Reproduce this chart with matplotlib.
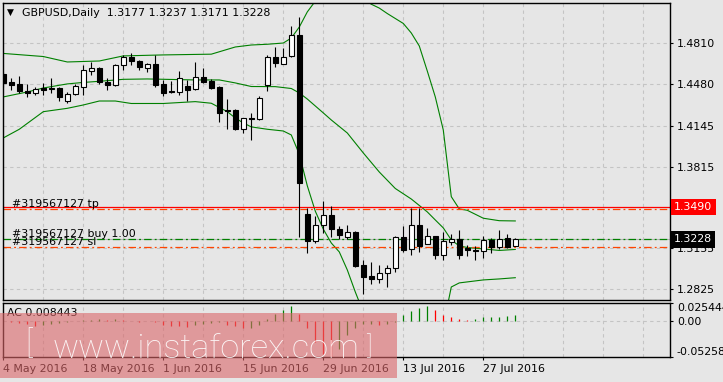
import matplotlib
matplotlib.use('Agg')
import matplotlib.pyplot as plt
from matplotlib.patches import Rectangle
import numpy as np

plt.rcParams['font.family'] = ['DejaVu Sans']

# chart data (daily bars, 4 May 2016 .. 2 Aug 2016)
symbol = 'GBPUSD,Daily'
date_labels = ['4 May 2016', '18 May 2016', '1 Jun 2016', '15 Jun 2016',
               '29 Jun 2016', '13 Jul 2016', '27 Jul 2016']
date_pos = [0, 10, 20, 30, 40, 50, 60]

opens = [1.4558, 1.4498, 1.4482, 1.4423, 1.4407, 1.4447, 1.4443, 1.4449, 1.4347, 1.4398,
         1.4460, 1.4589, 1.4611, 1.4500, 1.4476, 1.4633, 1.4697, 1.4667, 1.4608, 1.4643,
         1.4482, 1.4428, 1.4419, 1.4465, 1.4439, 1.4541, 1.4506, 1.4460, 1.4268, 1.4272,
         1.4116, 1.4205, 1.4202, 1.4471, 1.4697, 1.4645, 1.4708, 1.4877, 1.3430, 1.3217,
         1.3341, 1.3422, 1.3311, 1.3244, 1.3285, 1.3021, 1.2932, 1.2906, 1.2954, 1.2994,
         1.3244, 1.3148, 1.3341, 1.3193, 1.3253, 1.3104, 1.3204, 1.3231, 1.3156, 1.3142,
         1.3131, 1.3223, 1.3164, 1.3236, 1.3177]
highs = [1.4578, 1.4532, 1.4546, 1.4479, 1.4460, 1.4492, 1.4530, 1.4460, 1.4419, 1.4482,
         1.4635, 1.4662, 1.4615, 1.4528, 1.4643, 1.4716, 1.4734, 1.4675, 1.4649, 1.4716,
         1.4511, 1.4508, 1.4587, 1.4514, 1.4657, 1.4608, 1.4522, 1.4462, 1.4358, 1.4277,
         1.4210, 1.4250, 1.4385, 1.4716, 1.4778, 1.4774, 1.4950, 1.5022, 1.3478, 1.3416,
         1.3537, 1.3497, 1.3336, 1.3341, 1.3295, 1.3061, 1.3043, 1.3019, 1.3019, 1.3255,
         1.3336, 1.3478, 1.3478, 1.3317, 1.3258, 1.3290, 1.3269, 1.3303, 1.3182, 1.3174,
         1.3257, 1.3241, 1.3306, 1.3271, 1.3237]
lows = [1.4457, 1.4433, 1.4407, 1.4374, 1.4390, 1.4390, 1.4407, 1.4342, 1.4331, 1.4390,
        1.4393, 1.4554, 1.4482, 1.4433, 1.4465, 1.4595, 1.4635, 1.4595, 1.4576, 1.4455,
        1.4381, 1.4407, 1.4393, 1.4344, 1.4433, 1.4487, 1.4441, 1.4177, 1.4116, 1.4110,
        1.4089, 1.4030, 1.4191, 1.4428, 1.4621, 1.4641, 1.4702, 1.3244, 1.3120, 1.3201,
        1.3277, 1.3244, 1.3233, 1.3228, 1.3002, 1.2787, 1.2868, 1.2873, 1.2846, 1.2967,
        1.3126, 1.3102, 1.3128, 1.3188, 1.3069, 1.3061, 1.3182, 1.3069, 1.3094, 1.3061,
        1.3075, 1.3115, 1.3150, 1.3156, 1.3171]
closes = [1.4486, 1.4476, 1.4428, 1.4407, 1.4439, 1.4433, 1.4447, 1.4374, 1.4401, 1.4465,
          1.4595, 1.4611, 1.4500, 1.4476, 1.4635, 1.4697, 1.4670, 1.4621, 1.4641, 1.4476,
          1.4409, 1.4415, 1.4528, 1.4433, 1.4541, 1.4500, 1.4452, 1.4250, 1.4264, 1.4116,
          1.4205, 1.4197, 1.4366, 1.4697, 1.4649, 1.4702, 1.4877, 1.3680, 1.3217, 1.3341,
          1.3422, 1.3309, 1.3263, 1.3285, 1.3013, 1.2927, 1.2906, 1.2954, 1.2994, 1.3244,
          1.3144, 1.3341, 1.3177, 1.3253, 1.3104, 1.3212, 1.3231, 1.3104, 1.3140, 1.3131,
          1.3223, 1.3164, 1.3231, 1.3169, 1.3228]

# bollinger bands, read at some bars
bb_up_x = [0, 5, 8, 12, 15, 20, 26, 29, 31, 33, 35, 36, 37, 38, 39, 40, 41, 42, 43, 44,
           45, 46, 47, 48, 49, 50, 51, 52, 53, 54, 55, 56, 57, 58, 60, 62, 64]
bb_up = [1.4728, 1.4703, 1.4659, 1.4667, 1.4708, 1.4716, 1.4722, 1.4780, 1.4796, 1.4802,
         1.4812, 1.4852, 1.4941, 1.5063, 1.5150, 1.5200, 1.5195, 1.5170, 1.5195, 1.5205,
         1.5170, 1.5125, 1.5094, 1.5050, 1.5010, 1.4970, 1.4893, 1.4788, 1.4586, 1.4377,
         1.4110, 1.3572, 1.3473, 1.3462, 1.3398, 1.3378, 1.3376]
bb_mid_x = [0, 3, 5, 8, 10, 12, 15, 18, 21, 24, 27, 29, 31, 34, 36, 37, 38, 39, 40, 41,
            43, 45, 47, 49, 51, 52, 53, 54, 55, 56, 57, 58, 60, 62, 64]
bb_mid = [1.4377, 1.4417, 1.4449, 1.4482, 1.4494, 1.4503, 1.4519, 1.4522, 1.4518, 1.4514,
          1.4514, 1.4490, 1.4461, 1.4460, 1.4445, 1.4409, 1.4360, 1.4304, 1.4248, 1.4191,
          1.4086, 1.3925, 1.3771, 1.3638, 1.3553, 1.3501, 1.3449, 1.3384, 1.3320, 1.3223,
          1.3174, 1.3162, 1.3150, 1.3138, 1.3146]
bb_low_x = [0, 2, 5, 8, 10, 12, 14, 16, 20, 24, 26, 28, 29, 30, 31, 33, 35, 36, 37, 38,
            39, 40, 41, 42, 43, 44, 45, 46, 48, 50, 52, 54, 55, 56, 57, 58, 60, 62, 64]
bb_low = [1.4046, 1.4116, 1.4258, 1.4285, 1.4312, 1.4344, 1.4344, 1.4324, 1.4324, 1.4339,
          1.4326, 1.4258, 1.4207, 1.4167, 1.4135, 1.4116, 1.4102, 1.4070, 1.3915, 1.3660,
          1.3455, 1.3310, 1.3198, 1.3126, 1.2981, 1.2803, 1.2640, 1.2561, 1.2359, 1.2238,
          1.2206, 1.2391, 1.2528, 1.2843, 1.2876, 1.2884, 1.2900, 1.2908, 1.2918]

# accelerator oscillator
ac = [-0.0009, -0.0019, -0.0033, -0.0047, -0.0082, -0.0057, -0.0047, -0.0033, -0.0019, -0.0007,
      0.0007, 0.0014, 0.0019, 0.0011, 0.0019, 0.0007, -0.0007, -0.0014, -0.0007, -0.0017,
      -0.0068, -0.0072, -0.0082, -0.0086, -0.0068, -0.0047, -0.0033, -0.0019, -0.0057, -0.0082,
      -0.0105, -0.0100, -0.0068, 0.0029, 0.0101, 0.0158, 0.0206, 0.0101, -0.0105, -0.0302,
      -0.0474, -0.0517, -0.0402, -0.0201, -0.0101, -0.0050, -0.0043, -0.0057, -0.0053, -0.0014,
      0.0086, 0.0144, 0.0182, 0.0206, 0.0148, 0.0086, 0.0048, 0.0029, 0.0014, 0.0029,
      0.0048, 0.0052, 0.0057, 0.0066, 0.008443]

order_id = '#319567127'
hline_level = 1.3490
tp_level = 1.3472
buy_level = 1.3232
sl_level = 1.3165

price_ticks = [1.4810, 1.4480, 1.4145, 1.3815, 1.3490, 1.3155, 1.2825]
ac_ticks = [0.025444, 0.0, -0.05258]
ac_tick_labels = ['0.025444', '0.00', '-0.05258']

W, H = 723, 382
bg = '#e6e6e6'
grid_col = '#c4c4c4'
fs = 7.9


def px_rect(l, t, r, b):
    return [l / W, 1 - b / H, (r - l) / W, (b - t) / H]


fig = plt.figure(figsize=(W / 100, H / 100), dpi=100, facecolor=bg)
ax = fig.add_axes(px_rect(2.5, 3, 670, 300))
ax2 = fig.add_axes(px_rect(2.5, 303, 670, 357.3))

x = np.arange(len(opens))
o = np.array(opens); c = np.array(closes)
xlim = (-0.1, 83.34)

for a in (ax, ax2):
    a.set_facecolor(bg)
    a.set_xlim(*xlim)
    for s in a.spines.values():
        s.set_color('black')
        s.set_linewidth(1.0)
    for g in range(0, 84, 5):
        a.axvline(g, color=grid_col, lw=0.8, dashes=(3, 3), zorder=0)

# main chart
ax.set_ylim(1.2738, 1.5135)
for p in price_ticks:
    ax.axhline(p, color=grid_col, lw=0.8, dashes=(3, 3), zorder=0)

ax.plot(bb_up_x, bb_up, color='#008000', lw=0.8, zorder=2)
ax.plot(bb_mid_x, bb_mid, color='#008000', lw=0.8, zorder=2)
ax.plot(bb_low_x, bb_low, color='#008000', lw=0.8, zorder=2)

up = c >= o
ax.vlines(x, lows, highs, color='black', lw=0.8, zorder=3)
ax.bar(x, np.abs(c - o), bottom=np.minimum(o, c), width=0.62,
       color=np.where(up, 'white', 'black'), edgecolor='black', linewidth=0.8, zorder=4)

dd = (6, 2.5, 1.5, 2.5)
ax.axhline(hline_level, color='#ff0000', lw=0.9, zorder=2)
ax.axhline(tp_level, color='#ff4500', lw=0.9, dashes=dd, zorder=2)
ax.axhline(closes[-1], color='#b4b4b4', lw=0.8, zorder=1)
ax.axhline(buy_level, color='#008000', lw=0.9, dashes=dd, zorder=2)
ax.axhline(sl_level, color='#ff4500', lw=0.9, dashes=dd, zorder=2)

ytr = ax.get_yaxis_transform()
ax.text(0.0138, tp_level, order_id + ' tp', transform=ytr, va='bottom', fontsize=fs)
ax.text(0.0138, closes[-1], order_id + ' buy 1.00', transform=ytr, va='bottom', fontsize=fs)
ax.text(0.0138, sl_level, order_id + ' sl', transform=ytr, va='bottom', fontsize=fs)

ax.yaxis.tick_right()
ax.set_yticks(price_ticks)
ax.set_yticklabels(['%.4f' % p for p in price_ticks])
ax.tick_params(axis='y', direction='out', length=2.5, width=0.8, pad=2.5, labelsize=fs)
ax.tick_params(axis='x', bottom=False, labelbottom=False)

ax.text(1.006, hline_level, '%.4f' % hline_level, transform=ytr, va='center', ha='left',
        fontsize=fs, color='white', clip_on=False, zorder=6,
        bbox=dict(boxstyle='square,pad=0.3', fc='#ff0000', ec='none'))
ax.text(1.006, closes[-1], '%.4f' % closes[-1], transform=ytr, va='center', ha='left',
        fontsize=fs, color='white', clip_on=False, zorder=6,
        bbox=dict(boxstyle='square,pad=0.3', fc='black', ec='none'))

# indicator panel
ax2.set_ylim(ac_ticks[-1], ac_ticks[0])
ax2.axhline(0, color=grid_col, lw=0.8, dashes=(3, 3), zorder=0)
acv = np.array(ac)
ac_col = np.where(np.diff(acv, prepend=acv[0] + 1) > 0, '#008000', '#ff0000')
ax2.vlines(x, 0, acv, colors=ac_col, lw=0.9, zorder=3)
ax2.text(0.0072, 0.816, 'AC %.6f' % ac[-1], transform=ax2.transAxes, va='center',
         fontsize=fs)

ax2.yaxis.tick_right()
ax2.set_yticks(ac_ticks)
ax2.set_yticklabels(ac_tick_labels)
ax2.tick_params(axis='y', direction='out', length=2.5, width=0.8, pad=2.5, labelsize=fs)
labs = ax2.get_yticklabels()
labs[0].set_va('top')
labs[-1].set_va('bottom')

ax2.set_xticks(date_pos)
ax2.set_xticklabels(date_labels, ha='left')
ax2.tick_params(axis='x', direction='out', length=2.5, width=0.8, pad=2.0, labelsize=fs)

# header
fig.text(7 / W, 1 - 12.7 / H, '\u25bc', fontsize=6.5, va='center')
fig.text(21.7 / W, 1 - 12.7 / H,
         '%s  %.4f %.4f %.4f %.4f' % (symbol, opens[-1], highs[-1], lows[-1], closes[-1]),
         fontsize=fs, va='center')

# watermark
fig.add_artist(Rectangle((0, 1 - 378 / H), 396.7 / W, 65.3 / H, transform=fig.transFigure,
                         facecolor=(0.86, 0.40, 0.41), alpha=0.6, edgecolor='none', zorder=5))
wm = fig.text(53 / W, 1 - 358.3 / H, 'www.instaforex.com', fontsize=28, color='white',
              alpha=0.9, family='Roboto', weight='light', va='baseline', zorder=6)
fig.canvas.draw()
w = wm.get_window_extent().width
wm.set_fontsize(28 * 307 / w)
fig.text(25 / W, 1 - 328 / H, '[', fontsize=22, color='white', alpha=0.9,
         family='Roboto', weight='light', va='top', zorder=6)
fig.text(366 / W, 1 - 334 / H, ']', fontsize=19, color='white', alpha=0.9,
         family='Roboto', weight='light', va='top', zorder=6)

fig.savefig('out.png', dpi=100, facecolor=bg)
